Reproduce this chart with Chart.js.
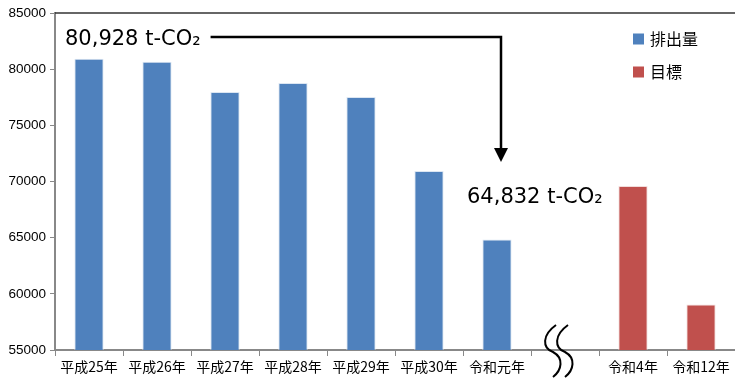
<!DOCTYPE html>
<html>
<head>
<meta charset="utf-8">
<script src="https://cdn.jsdelivr.net/npm/chart.js@4.4.1/dist/chart.umd.min.js"></script>
<style>
  body { margin: 0; background: #fff; }
  #wrap { width: 735px; height: 383px; position: relative; }
</style>
</head>
<body>
<div id="wrap"><canvas id="co2-chart"></canvas></div>
<script>
var years = ['平成25年', '平成26年', '平成27年', '平成28年', '平成29年', '平成30年', '令和元年', '', '令和4年', '令和12年'];
var emissions = [80928, 80650, 77970, 78770, 77520, 70940, 64832, null, null, null];
var targets = [null, null, null, null, null, null, null, null, 69600, 59050];
var seriesNames = ['排出量', '目標'];
var seriesColors = ['#4F81BD', '#C0504D'];
var firstNote = '80,928 t-CO₂';
var lastNote = '64,832 t-CO₂';

var ctx = document.getElementById('co2-chart');

var chart = new Chart(ctx, {
    type: 'bar',
    data: {
        labels: years,
        datasets: [{
                label: seriesNames[0],
                data: emissions,
                backgroundColor: seriesColors[0],
                borderColor: '#dce6f2',
                borderWidth: 1
            }, {
                label: seriesNames[1],
                data: targets,
                backgroundColor: seriesColors[1],
                borderColor: '#f2dcdb',
                borderWidth: 1
            }]
    },
    options: {
        responsive: true,
        maintainAspectRatio: false,
        animation: false,
        layout: {padding: {top: 13, right: 0, left: 0, bottom: 0}},
        datasets: {
            bar: {grouped: false, barPercentage: 0.43, categoryPercentage: 1}
        },
        plugins: {
            legend: {display: false},
            tooltip: {enabled: false}
        },
        scales: {
            x: {
                afterFit: function (scale) { scale.height = 33; },
                grid: {drawOnChartArea: false, tickLength: 6, color: '#888', lineWidth: 1},
                border: {color: '#888', width: 2},
                ticks: {color: '#000', font: {family: '"Noto Sans CJK JP"', size: 14}, maxRotation: 0, autoSkip: false, padding: 2}
            },
            y: {
                min: 55000,
                max: 85000,
                afterFit: function (scale) { scale.width = 55; },
                grid: {drawOnChartArea: false, tickLength: 5, color: '#888'},
                border: {color: '#888', width: 2},
                ticks: {
                    stepSize: 5000,
                    color: '#000',
                    font: {family: '"Liberation Sans", Arial', size: 13.5},
                    padding: 4,
                    callback: function (v) { return String(v); }
                }
            }
        }
    },
    plugins: [{
            id: 'notes-and-legend',
            afterDraw: function (chart) {
                var c = chart.ctx;
                var area = chart.chartArea;
                var xs = chart.scales.x;
                c.save();

                // top frame line
                c.strokeStyle = '#333';
                c.lineWidth = 1.5;
                c.beginPath();
                c.moveTo(area.left, area.top);
                c.lineTo(area.right, area.top);
                c.stroke();

                // legend
                c.font = '16px "Noto Sans CJK JP"';
                c.textBaseline = 'middle';
                c.textAlign = 'left';
                for (var i = 0; i < seriesNames.length; i++) {
                    var ly = 39 + i * 33;
                    c.fillStyle = seriesColors[i];
                    c.fillRect(633, ly - 5.5, 11, 11);
                    c.fillStyle = '#000';
                    c.fillText(seriesNames[i], 650, ly);
                }

                // notes
                c.font = '21px "DejaVu Sans"';
                c.textBaseline = 'alphabetic';
                c.fillText(firstNote, 65, 45);
                var w = c.measureText(firstNote).width;
                c.fillText(lastNote, 467, 203);

                // arrow
                var ax = xs.getPixelForValue(6) + 4;
                var ay = 37;
                c.strokeStyle = '#000';
                c.lineWidth = 2.5;
                c.beginPath();
                c.moveTo(65 + w + 10, ay);
                c.lineTo(ax, ay);
                c.lineTo(ax, 150);
                c.stroke();
                c.fillStyle = '#000';
                c.beginPath();
                c.moveTo(ax - 7, 148);
                c.lineTo(ax + 7, 148);
                c.lineTo(ax, 162);
                c.closePath();
                c.fill();

                // break mark
                var bx = xs.getPixelForValue(7);
                c.lineWidth = 2;
                for (var k = 0; k < 2; k++) {
                    var ox = bx - 12 + k * 12;
                    c.beginPath();
                    c.moveTo(ox + 3, 325);
                    c.bezierCurveTo(ox - 11, 335, ox - 11, 348, ox, 352);
                    c.bezierCurveTo(ox + 11, 358, ox + 9, 370, ox, 377);
                    c.stroke();
                }
                c.restore();
            }
        }]
});
</script>
</body>
</html>
